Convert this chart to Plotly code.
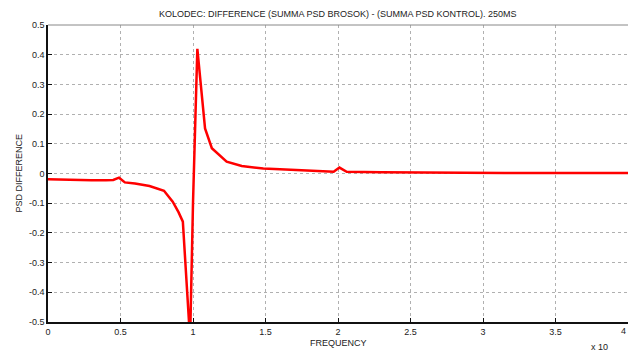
import plotly.graph_objects as go

freq = [0.0, 0.1, 0.2, 0.3, 0.4, 0.45, 0.49, 0.53, 0.6, 0.7, 0.8, 0.86, 0.9, 0.93, 0.98,
        1.0, 1.03, 1.083, 1.13, 1.232, 1.336, 1.485, 1.6, 1.8, 1.97, 2.01, 2.06, 2.3,
        2.52, 2.8, 3.0, 3.07, 3.15, 3.5, 4.0]
diff = [-0.019, -0.021, -0.022, -0.023, -0.023, -0.022, -0.014, -0.03, -0.034, -0.042,
        -0.058, -0.095, -0.13, -0.162, -0.56, -0.1, 0.42, 0.152, 0.085, 0.040, 0.025,
        0.017, 0.014, 0.011, 0.006, 0.02, 0.006, 0.004, 0.003, 0.003, 0.002, 0.003,
        0.002, 0.002, 0.002]

x_ticks = [0, 0.5, 1, 1.5, 2, 2.5, 3, 3.5]
x_labels = ["0", "0.5", "1", "1.5", "2", "2.5", "3", "3.5"]
last_x_label = "4"
y_ticks = [-0.5, -0.4, -0.3, -0.2, -0.1, 0, 0.1, 0.2, 0.3, 0.4, 0.5]
y_labels = ["-0.5", "-0.4", "-0.3", "-0.2", "-0.1", "0", "0.1", "0.2", "0.3", "0.4", "0.5"]

title = "KOLODEC: DIFFERENCE (SUMMA PSD BROSOK) - (SUMMA PSD KONTROL). 250MS"

fig = go.Figure()
fig.add_trace(go.Scatter(x=freq, y=diff, mode="lines",
                         line=dict(color="#ff0000", width=2.5)))

font = dict(family="Liberation Sans, Arial, sans-serif", size=9, color="#222")
fig.update_layout(
    width=629, height=354,
    margin=dict(l=48, r=1, t=25, b=32, autoexpand=False),
    paper_bgcolor="white", plot_bgcolor="white",
    showlegend=False,
    font=font,
    xaxis=dict(range=[0, 4], tickvals=x_ticks, ticktext=x_labels, automargin=False,
               showgrid=True, gridcolor="#b0b0b0", griddash="dot", gridwidth=1,
               showline=True, linecolor="#111", linewidth=1.5, mirror=False,
               ticks="inside", ticklen=4, tickcolor="#111",
               zeroline=False),
    yaxis=dict(range=[-0.5, 0.5], tickvals=y_ticks, ticktext=y_labels, automargin=False,
               showgrid=True, gridcolor="#b0b0b0", griddash="dot", gridwidth=1,
               showline=True, linecolor="#111", linewidth=1.5,
               ticks="inside", ticklen=4, tickcolor="#111",
               zeroline=False),
)
fig.add_shape(type="line", xref="paper", yref="paper", x0=0, x1=1, y0=1, y1=1,
              line=dict(color="#888", width=1))
fig.add_annotation(text=title, xref="paper", yref="paper", x=0.5, y=1,
                   yshift=11, xanchor="center", yanchor="middle", showarrow=False, font=font)
fig.add_annotation(text="FREQUENCY", xref="paper", yref="paper", x=0.5, y=0,
                   yshift=-21, xanchor="center", yanchor="middle", showarrow=False, font=font)
fig.add_annotation(text="PSD DIFFERENCE", xref="paper", yref="paper", x=0, y=0.5,
                   xshift=-30, xanchor="center", yanchor="middle", textangle=-90,
                   showarrow=False, font=font)
fig.add_annotation(text=last_x_label, xref="x", yref="paper", x=4, y=0,
                   yshift=-9, xanchor="right", yanchor="middle", showarrow=False, font=font)
fig.add_annotation(text="x 10", xref="paper", yref="paper", x=0.95, y=0,
                   yshift=-25, xanchor="center", yanchor="middle", showarrow=False, font=font)
fig.write_html("out.html", config={"displayModeBar": False},
               post_script="document.body.style.margin='0';document.body.style.overflow='hidden';")
